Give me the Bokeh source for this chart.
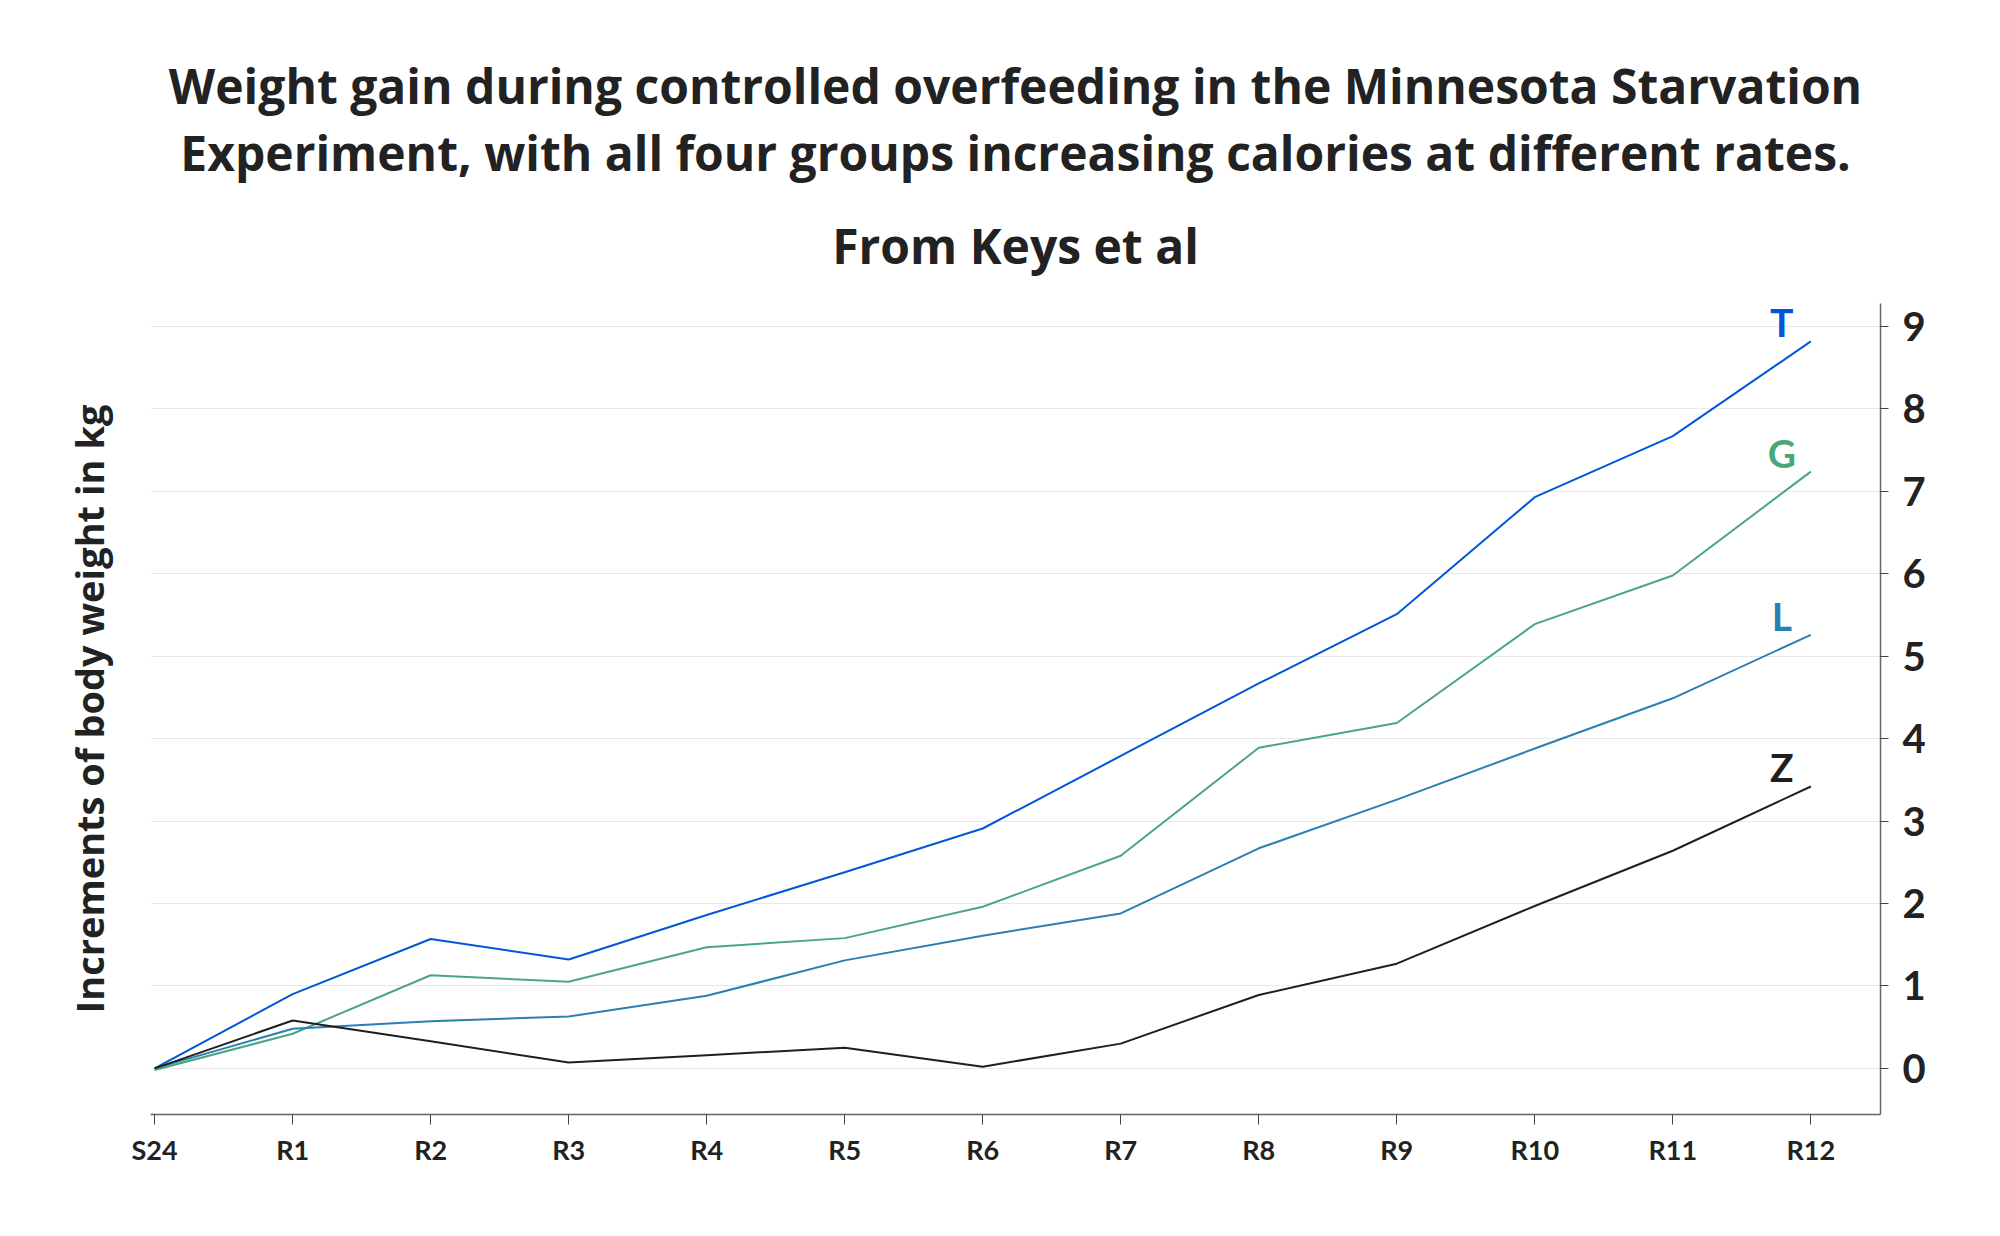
from bokeh.plotting import figure
from bokeh.models import LinearAxis, FixedTicker, ColumnDataSource, Range1d, Title
from bokeh.core.properties import value
from bokeh.embed import file_html
from bokeh.resources import INLINE

# ---- data ----
periods = ["S24", "R1", "R2", "R3", "R4", "R5", "R6", "R7", "R8", "R9", "R10", "R11", "R12"]
group_T = [0.0, 0.90, 1.57, 1.32, 1.86, 2.38, 2.91, 3.79, 4.67, 5.51, 6.93, 7.67, 8.82]
group_G = [-0.02, 0.42, 1.13, 1.05, 1.47, 1.58, 1.96, 2.58, 3.89, 4.19, 5.39, 5.98, 7.24]
group_L = [0.0, 0.48, 0.57, 0.63, 0.88, 1.31, 1.61, 1.88, 2.67, 3.26, 3.88, 4.49, 5.26]
group_Z = [0.0, 0.58, 0.33, 0.07, 0.16, 0.25, 0.02, 0.30, 0.89, 1.27, 1.97, 2.64, 3.42]
series_names = ["T", "G", "L", "Z"]
series_colors = ["#0057d8", "#4aa77b", "#2b7fb1", "#1f1f1f"]
y_ticks = [0, 1, 2, 3, 4, 5, 6, 7, 8, 9]

title_lines = ["Weight gain during controlled overfeeding in the Minnesota Starvation",
               "Experiment, with all four groups increasing calories at different rates.",
               "From Keys et al"]
y_label = "Increments of body weight in kg"

x_idx = list(range(len(periods)))

p = figure(width=1984, height=1220, output_backend="svg", toolbar_location=None,
           x_range=Range1d(-0.03, 12.505), y_range=Range1d(-0.56, 9.28),
           y_axis_location="right",
           min_border_left=150, min_border_right=104, min_border_top=303, min_border_bottom=106)

p.outline_line_color = None
p.background_fill_color = "white"
p.border_fill_color = "white"

# title: one centred Title per line, bottom line added first (closest to the frame)
for i, line in enumerate(reversed(title_lines)):
    t = Title(text=line, align="center", text_font="Open Sans", text_font_style="bold",
              text_font_size="48px", text_color="#222222",
              standoff=(52 if i == 0 else 0))
    p.add_layout(t, "above")

# grids
p.xgrid.visible = False
p.ygrid.grid_line_color = "#e8e8e8"
p.ygrid.grid_line_width = 1
p.ygrid.ticker = FixedTicker(ticks=y_ticks)

# x axis
xa = p.below[0]
xa.ticker = FixedTicker(ticks=x_idx)
xa.major_label_overrides = {i: lab for i, lab in enumerate(periods)}
xa.axis_line_color = "#666666"
xa.axis_line_width = 1.5
xa.major_tick_line_color = "#444444"
xa.major_tick_out = 10
xa.major_tick_in = 0
xa.minor_tick_line_color = None
xa.major_label_text_font = "Lato"
xa.major_label_text_font_style = "bold"
xa.major_label_text_font_size = "27px"
xa.major_label_text_color = "#222222"
xa.major_label_standoff = 8

# right y axis
ya = p.right[0]
ya.ticker = FixedTicker(ticks=y_ticks)
ya.axis_line_color = "#666666"
ya.axis_line_width = 1.5
ya.major_tick_line_color = "#444444"
ya.major_tick_out = 8
ya.major_tick_in = 0
ya.minor_tick_line_color = None
ya.major_label_text_font = "Lato"
ya.major_label_text_font_style = "bold"
ya.major_label_text_font_size = "40px"
ya.major_label_text_color = "#222222"
ya.major_label_standoff = 14

# left axis carrying only the label
la = LinearAxis(axis_label=y_label, ticker=FixedTicker(ticks=[]))
la.axis_line_color = None
la.major_tick_line_color = None
la.minor_tick_line_color = None
la.axis_label_text_font = "Open Sans"
la.axis_label_text_font_style = "bold"
la.axis_label_text_font_size = "38px"
la.axis_label_text_color = "#222222"
la.axis_label_standoff = 36
p.add_layout(la, "left")

all_series = [group_T, group_G, group_L, group_Z]
for name, col, vals in zip(series_names, series_colors, all_series):
    src = ColumnDataSource(dict(x=x_idx, y=vals))
    p.line("x", "y", source=src, line_color=col, line_width=2)

lab_src = ColumnDataSource(dict(
    x=[x_idx[-1]] * 4,
    y=[s[-1] for s in all_series],
    text=series_names,
    color=series_colors,
))
p.text("x", "y", text="text", source=lab_src, text_color="color",
       text_font=value("Lato"), text_font_style="bold", text_font_size="39px",
       text_align="center", text_baseline="middle", x_offset=-29, y_offset=-19)

open("out.html", "w").write(file_html(p, INLINE))
